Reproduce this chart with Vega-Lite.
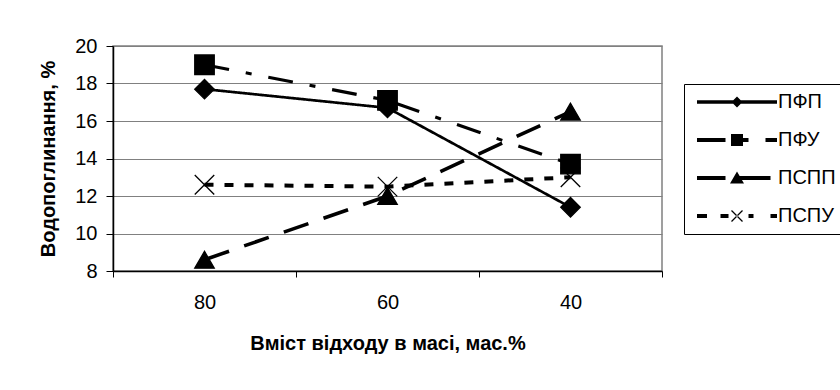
{
  "$schema": "https://vega.github.io/schema/vega-lite/v6.json",
  "width": 549,
  "height": 225,
  "autosize": {"type": "none"},
  "padding": {"left": 113, "top": 46, "right": 178, "bottom": 119},
  "background": "white",
  "data": {
    "values": [
      {"series": "ПФП", "content": 80, "value": 17.7},
      {"series": "ПФП", "content": 60, "value": 16.7},
      {"series": "ПФП", "content": 40, "value": 11.4},
      {"series": "ПФУ", "content": 80, "value": 19.0},
      {"series": "ПФУ", "content": 60, "value": 17.1},
      {"series": "ПФУ", "content": 40, "value": 13.7},
      {"series": "ПСПП", "content": 80, "value": 8.6},
      {"series": "ПСПП", "content": 60, "value": 12.0},
      {"series": "ПСПП", "content": 40, "value": 16.5},
      {"series": "ПСПУ", "content": 80, "value": 12.6},
      {"series": "ПСПУ", "content": 60, "value": 12.5},
      {"series": "ПСПУ", "content": 40, "value": 13.0}
    ]
  },
  "encoding": {
    "x": {
      "field": "content",
      "type": "ordinal",
      "sort": "descending",
      "scale": {"paddingInner": 0, "paddingOuter": 0},
      "title": "Вміст відходу в масі, мас.%",
      "axis": {
        "labelAngle": 0,
        "tickBand": "extent",
        "grid": false,
        "tickSize": 6,
        "labelPadding": 15,
        "titlePadding": 21
      }
    },
    "y": {
      "field": "value",
      "type": "quantitative",
      "scale": {"domain": [8, 20], "nice": false, "zero": false},
      "title": "Водопоглинання, %",
      "axis": {
        "values": [8, 10, 12, 14, 16, 18, 20],
        "grid": true,
        "gridColor": "#808080",
        "gridWidth": 1,
        "tickSize": 7,
        "labelPadding": 9,
        "titlePadding": 16
      }
    }
  },
  "layer": [
    {
      "mark": {"type": "line", "color": "black", "strokeCap": "butt", "strokeJoin": "miter"},
      "encoding": {
        "strokeDash": {
          "field": "series",
          "type": "nominal",
          "scale": {
            "domain": ["ПФП", "ПФУ", "ПСПП", "ПСПУ"],
            "range": [[1, 0], [25, 17, 6, 17], [26, 16], [9, 11]]
          },
          "legend": null
        },
        "strokeWidth": {
          "field": "series",
          "type": "nominal",
          "scale": {
            "domain": ["ПФП", "ПФУ", "ПСПП", "ПСПУ"],
            "range": [2.7, 4, 4, 4]
          },
          "legend": null
        }
      }
    },
    {
      "mark": {"type": "point", "filled": true, "fill": "black", "stroke": "black", "strokeWidth": 1.3, "opacity": 1, "size": 380},
      "encoding": {
        "shape": {
          "field": "series",
          "type": "nominal",
          "scale": {
            "domain": ["ПФП", "ПФУ", "ПСПП", "ПСПУ"],
            "range": ["diamond", "square", "triangle-up", "M-1,-1L1,1M-1,1L1,-1"]
          },
          "legend": null
        }
      }
    },
    {
      "transform": [{"filter": "datum.value < 0"}],
      "mark": {"type": "point", "filled": true, "fill": "black", "strokeWidth": 0, "opacity": 1},
      "encoding": {
        "shape": {
          "field": "series",
          "type": "nominal",
          "scale": {
            "domain": ["ПФП", "ПФУ", "ПСПП", "ПСПУ"],
            "range": [
              "M-1,-0.35H15V0.35H-1Z M5.9,0L7,-1.1L8.1,0L7,1.1Z",
              "M-1,-0.4H4.7V0.4H-1Z M5.8,-1.2H8.2V1.2H5.8Z M8.2,-0.4H9.3V0.4H8.2Z M12.7,-0.4H15V0.4H12.7Z",
              "M-1,-0.4H4.7V0.4H-1Z M7,-1.3L8.4,1.1L5.6,1.1Z M7,-0.4H13.7V0.4H7Z",
              "M-1,-0.4H1V0.4H-1Z M3.7,-0.4H5.3V0.4H3.7Z M9.3,-0.4H10.3V0.4H9.3Z M13.7,-0.4H15V0.4H13.7Z M5.99,-1.19L8.19,1.01L8.01,1.19L5.81,-1.01Z M5.99,1.19L8.19,-1.01L8.01,-1.19L5.81,1.01Z"
            ]
          },
          "legend": {
            "orient": "none",
            "legendX": 571,
            "legendY": 38,
            "title": null,
            "padding": 8,
            "strokeColor": "black",
            "labelFont": "Liberation Sans",
            "labelFontSize": 20,
            "labelColor": "black",
            "labelOffset": 66,
            "labelExpr": "datum.label + '\u00a0\u00a0'",
            "rowPadding": 18,
            "symbolSize": 100,
            "symbolStrokeWidth": 0,
            "symbolFillColor": "black",
            "symbolStrokeColor": "black",
            "symbolOpacity": 1
          }
        }
      }
    }
  ],
  "resolve": {"scale": {"shape": "independent"}, "legend": {"shape": "independent"}},
  "config": {
    "font": "Liberation Sans",
    "view": {"stroke": "#808080", "strokeWidth": 1.5},
    "axis": {
      "labelFont": "Liberation Sans",
      "labelFontSize": 20,
      "labelColor": "black",
      "titleFont": "Liberation Sans",
      "titleFontSize": 20,
      "titleFontWeight": "bold",
      "titleColor": "black",
      "domainColor": "black",
      "domainWidth": 1.5,
      "tickColor": "black",
      "tickWidth": 1
    }
  }
}
